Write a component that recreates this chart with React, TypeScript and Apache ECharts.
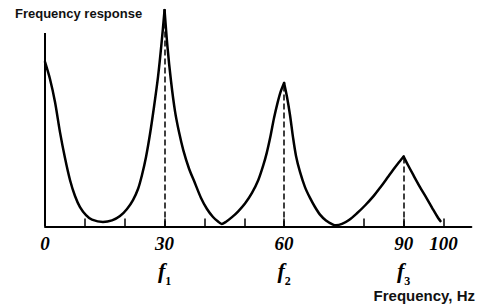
import React, { useEffect, useRef } from "react";
import * as echarts from "echarts";

// Frequency (Hz) along the curve
const curveFreq = [
  0, 1.25, 2.51, 3.76, 5.02, 6.27, 7.53, 8.78, 10.29, 11.79, 14.55,
  16.81, 18.82, 20.58, 22.08, 23.34, 24.34, 25.35, 26.35, 27.35, 28.36, 29.23, 30,
  30.74, 31.62, 32.62, 33.63, 34.7, 36.13, 37.64, 39.15, 40.65, 42.16, 43.42, 44.34,
  45.43, 46.85, 48.43, 50.19, 51.94, 53.53, 54.71, 55.63, 56.59, 57.47, 58.34, 59.1, 60,
  60.73, 61.48, 62.23, 62.99, 63.99, 65.24, 66.5, 67.75, 69.01, 70.51, 72.27, 73.02,
  74.53, 76.29, 78.22, 80.3, 82.38, 84.32, 85.95, 87.33, 88.58, 90,
  91.08, 92.42, 94.1, 95.78, 97.24, 98.7, 99.25,
];
// Response (arbitrary units, first peak = 100)
const curveResp = [
  76.0, 68.1, 57.5, 43.6, 31.6, 21.5, 14.1, 9.0, 5.3, 3.2, 2.1,
  2.8, 4.8, 8.1, 12.2, 17.3, 23.8, 32.1, 42.7, 55.2, 69.1, 84.3, 100,
  82.9, 67.2, 53.3, 43.6, 35.3, 26.8, 20.0, 13.2, 8.1, 4.4, 2.3, 1.2,
  2.2, 4.2, 6.9, 10.6, 15.5, 21.5, 27.9, 33.9, 41.8, 50.1, 57.0, 62.1, 66.3,
  59.8, 51.5, 41.3, 32.6, 25.2, 18.2, 13.2, 9.0, 5.5, 2.8, 0.9, 0.6,
  1.2, 3.0, 6.0, 9.7, 13.9, 18.5, 22.6, 26.1, 29.1, 32.3,
  28.4, 23.8, 18.2, 13.0, 8.3, 3.8, 2.5,
];

const peakFreqs = [30, 60, 90];
const labelFreqs = [0, 30, 60, 90, 100];
const labelSubs = ["", "1", "2", "3", ""];
const tickFreqs = [10, 20, 30, 40, 50, 60, 80, 90, 100];
const xMax = 107;
const yMax = 100;
const yAxisTop = 89.4;

const serif = "'Liberation Serif', 'DejaVu Serif', serif";
const sans = "'Liberation Sans', Arial, sans-serif";

export default function App() {
  const ref = useRef<HTMLDivElement>(null);
  useEffect(() => {
    document.body.style.margin = "0";
    if (!ref.current) return;
    const chart = echarts.init(ref.current, undefined, { renderer: "svg" });
    const data = curveFreq.map((f, i) => [f, curveResp[i]]);
    // split the curve at the resonance peaks so each peak stays a sharp cusp
    const cuts = [0, ...peakFreqs.map((f) => curveFreq.indexOf(f)), curveFreq.length - 1];
    const segments: number[][][] = [];
    for (let k = 0; k < cuts.length - 1; k++) {
      segments.push(data.slice(cuts[k], cuts[k + 1] + 1));
    }
    const peakLines = peakFreqs.map((f) => {
      const idx = curveFreq.indexOf(f);
      return [
        { coord: [f, 0], lineStyle: { type: [6, 3], width: 1.5, color: "#000" } },
        { coord: [f, curveResp[idx]] },
      ];
    });
    const segSeries = segments.map((seg, k) => ({
      type: "line",
      data: seg,
      symbol: "none",
      smooth: 0.3,
      lineStyle: { color: "#000", width: 2.5, join: "round", cap: "round" },
      z: 5,
      ...(k === 0
        ? {
            markLine: {
              silent: true,
              symbol: ["none", "none"],
              label: { show: false },
              data: [
                [
                  { coord: [0, 0], lineStyle: { type: "solid", width: 2, color: "#000" } },
                  { coord: [0, yAxisTop] },
                ],
                ...peakLines,
              ],
            },
          }
        : {}),
    }));
    chart.setOption({
      animation: false,
      backgroundColor: "#fff",
      title: {
        text: "Frequency response",
        left: 10,
        top: 2,
        textStyle: { fontFamily: sans, fontSize: 13, fontWeight: "bold", color: "#111" },
      },
      graphic: [
        {
          type: "text",
          right: 3,
          bottom: 2,
          style: {
            text: "Frequency, Hz",
            font: `bold 15px ${sans}`,
            fill: "#111",
          },
        },
      ],
      grid: { left: 45, top: 10, width: xMax * 3.985, height: 216.5 },
      xAxis: {
        type: "value",
        min: 0,
        max: xMax,
        axisLine: { lineStyle: { color: "#000", width: 2 } },
        axisTick: {
          show: true,
          inside: true,
          length: 8,
          customValues: tickFreqs,
          lineStyle: { color: "#000", width: 1.5 },
        },
        splitLine: { show: false },
        axisLabel: {
          customValues: labelFreqs,
          margin: 6,
          color: "#000",
          formatter: (v: number) => {
            const i = labelFreqs.indexOf(v);
            if (i < 0) return "";
            const s = labelSubs[i];
            return s ? `{n|${v}}\n{f|f}{s|${s}}` : `{n|${v}}`;
          },
          rich: {
            n: {
              fontFamily: serif,
              fontStyle: "italic",
              fontWeight: "bold",
              fontSize: 19,
              lineHeight: 22,
              color: "#000",
            },
            f: {
              fontFamily: serif,
              fontStyle: "italic",
              fontWeight: "bold",
              fontSize: 22,
              lineHeight: 32,
              color: "#000",
            },
            s: {
              fontFamily: serif,
              fontWeight: "bold",
              fontSize: 12,
              lineHeight: 22,
              verticalAlign: "bottom",
              color: "#000",
            },
          },
        },
      },
      yAxis: {
        type: "value",
        min: 0,
        max: yMax,
        show: false,
      },
      series: segSeries,
    });
    return () => chart.dispose();
  }, []);
  return <div ref={ref} style={{ width: 478, height: 305 }} />;
}
